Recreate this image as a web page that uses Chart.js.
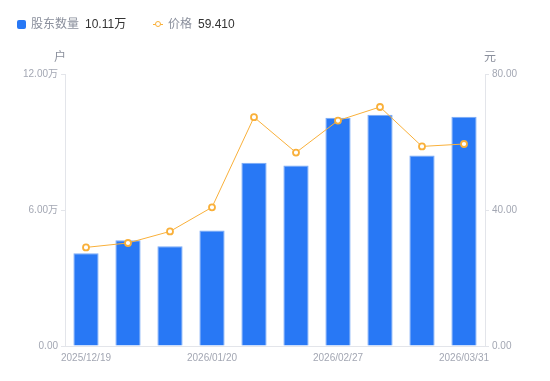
<!DOCTYPE html>
<html>
<head>
<meta charset="utf-8">
<script src="https://cdn.jsdelivr.net/npm/chart.js@4"></script>
<style>
  html, body { margin: 0; padding: 0; background: #fff; }
  #wrap { position: relative; width: 550px; height: 381px; font-family: "Liberation Sans", "Noto Sans CJK SC", sans-serif; }
  #c { position: absolute; left: 0; top: 0; }
  .lg { position: absolute; top: 17px; height: 15px; line-height: 15px; font-size: 12px; white-space: nowrap; }
  .lg .name { color: #8a8f9c; }
  .lg .val { color: #333; margin-left: 6px; }
  .sq { position: absolute; left: 17px; top: 20px; width: 9px; height: 9px; background: #2878f5; border-radius: 2px; }
  .ln { position: absolute; left: 153px; top: 24px; width: 10px; height: 1px; background: #f9b03a; }
  .dot { position: absolute; left: 155px; top: 21px; width: 4px; height: 4px; border: 1.5px solid #f9b03a; border-radius: 50%; background: #fff; }
</style>
</head>
<body>
<div id="wrap">
  <canvas id="c" width="550" height="381"></canvas>
  <div class="sq"></div>
  <div class="lg" style="left:31px"><span class="name">股东数量</span><span class="val">10.11万</span></div>
  <div class="ln"></div><div class="dot"></div>
  <div class="lg" style="left:168px"><span class="name">价格</span><span class="val">59.410</span></div>
</div>
<script>
// Data
const categories = ['2025/12/19', '', '', '2026/01/20', '', '', '2026/02/27', '', '', '2026/03/31'];
const holders = [4.09, 4.66, 4.40, 5.10, 8.09, 7.96, 10.07, 10.20, 8.40, 10.11]; // 万户
const price = [29.0, 30.3, 33.7, 40.8, 67.3, 56.9, 66.3, 70.3, 58.7, 59.41];   // 元
const leftTicks = [0, 6, 12];
const rightTicks = [0, 40, 80];
const leftTitle = '户';
const rightTitle = '元';

const gray = '#a3a7b3';
const axisColor = '#e3e5ea';
const fontFamily = '"Liberation Sans", "Noto Sans CJK SC", sans-serif';

const axisTitles = {
  id: 'axisTitles',
  afterDraw(chart) {
    const ctx = chart.ctx;
    const yl = chart.scales.y, yr = chart.scales.y1;
    ctx.save();
    ctx.font = '12px ' + fontFamily;
    ctx.fillStyle = '#8a8f9c';
    ctx.textAlign = 'center';
    ctx.textBaseline = 'middle';
    ctx.fillText(leftTitle, yl.right - 5, yl.top - 16);
    ctx.fillText(rightTitle, yr.left + 5, yr.top - 16);
    ctx.restore();
  }
};

new Chart(document.getElementById('c'), {
  data: {
    labels: categories,
    datasets: [
      {
        type: 'line',
        label: '价格',
        data: price,
        yAxisID: 'y1',
        borderColor: '#f9b03a',
        borderWidth: 1,
        pointRadius: 3,
        pointBorderWidth: 1.8,
        pointBackgroundColor: '#fff',
        pointBorderColor: '#f9b03a',
        tension: 0,
        order: 0
      },
      {
        type: 'bar',
        label: '股东数量',
        data: holders,
        yAxisID: 'y',
        backgroundColor: '#2878f5',
        borderColor: '#7aaaf6',
        borderWidth: 1,
        categoryPercentage: 1,
        barPercentage: 0.6,
        order: 1
      }
    ]
  },
  options: {
    responsive: false,
    animation: false,
    layout: { padding: { top: 74, left: 0, right: 0, bottom: 0 } },
    plugins: { legend: { display: false }, tooltip: { enabled: false } },
    scales: {
      x: {
        grid: { display: false, drawTicks: false },
        border: { color: axisColor },
        ticks: {
          autoSkip: false, maxRotation: 0, padding: 6,
          color: gray, font: { size: 10, family: fontFamily },
          callback: (v, i) => categories[i]
        },
        afterFit: s => { s.height = 35; }
      },
      y: {
        position: 'left',
        min: 0, max: 12,
        afterBuildTicks: s => { s.ticks = leftTicks.map(v => ({ value: v })); },
        grid: { display: true, drawOnChartArea: false, drawTicks: true, tickLength: 4, color: axisColor },
        border: { color: axisColor },
        ticks: {
          padding: 3, color: gray, font: { size: 10, family: fontFamily },
          callback: v => v === 0 ? '0.00' : v.toFixed(2) + '万'
        },
        afterFit: s => { s.width = 65; }
      },
      y1: {
        position: 'right',
        min: 0, max: 80,
        afterBuildTicks: s => { s.ticks = rightTicks.map(v => ({ value: v })); },
        grid: { display: true, drawOnChartArea: false, drawTicks: true, tickLength: 4, color: axisColor },
        border: { color: axisColor },
        ticks: {
          padding: 3, color: gray, font: { size: 10, family: fontFamily },
          callback: v => v.toFixed(2)
        },
        afterFit: s => { s.width = 65; }
      }
    }
  },
  plugins: [axisTitles]
});
</script>
</body>
</html>
